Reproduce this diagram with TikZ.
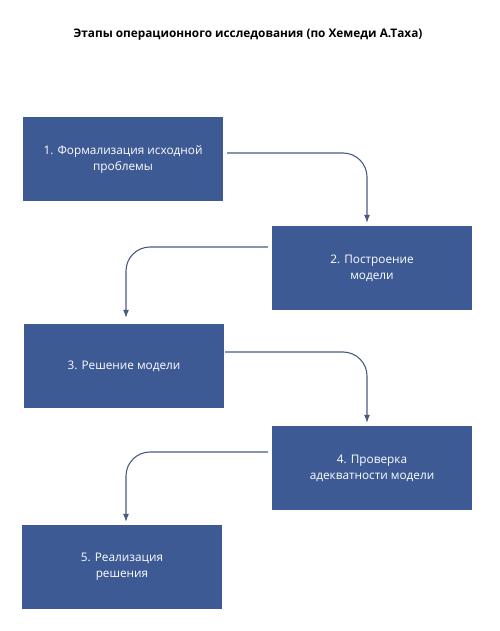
\documentclass[tikz,border=0pt]{standalone}
\usepackage{fontspec}
\setmainfont{Open Sans}
\usetikzlibrary{arrows.meta}
\definecolor{stepblue}{HTML}{3D5A94}
\definecolor{linkblue}{HTML}{4A5A82}
\tikzset{
    stagebox/.style={
        fill=stepblue,
        text=white,
        minimum width=200pt,
        minimum height=84pt,
        align=center,
        inner sep=2pt,
        font=\fontsize{11.8}{16}\selectfont
    },
    link/.style={
        draw=linkblue,
        line width=1.1pt,
        rounded corners=24pt,
        -{Latex[length=8pt, width=6pt]}
    }
}

\begin{document}
\begin{tikzpicture}[x=1pt, y=-1pt]
    \useasboundingbox (0,0) rectangle (499,631);
    % Title
    \node[font=\bfseries\fontsize{11.8}{13}\selectfont] (title) at (248,35)
        {Этапы операционного исследования (по Хемеди А.Таха)};

    % Stages
    \node[stagebox] (s1) at (123,159) {1. Формализация исходной\\проблемы};
    \node[stagebox] (s2) at (372,268) {2. Построение\\модели};
    \node[stagebox] (s3) at (124,366) {3. Решение модели};
    \node[stagebox] (s4) at (372,468) {4. Проверка\\адекватности модели};
    \node[stagebox] (s5) at (122,567) {5. Реализация\\решения};

    % Links
    \draw[link] ([xshift=4pt, yshift=6pt]s1.east) -| ([xshift=-5pt, yshift=3pt]s2.north);
    \draw[link] ([xshift=-4pt, yshift=21pt]s2.west) -| ([xshift=2pt, yshift=6pt]s3.north);
    \draw[link] ([xshift=1pt, yshift=14pt]s3.east) -| ([xshift=-5pt, yshift=3pt]s4.north);
    \draw[link] ([xshift=-4pt, yshift=16pt]s4.west) -| ([xshift=4pt, yshift=3pt]s5.north);
\end{tikzpicture}
\end{document}
